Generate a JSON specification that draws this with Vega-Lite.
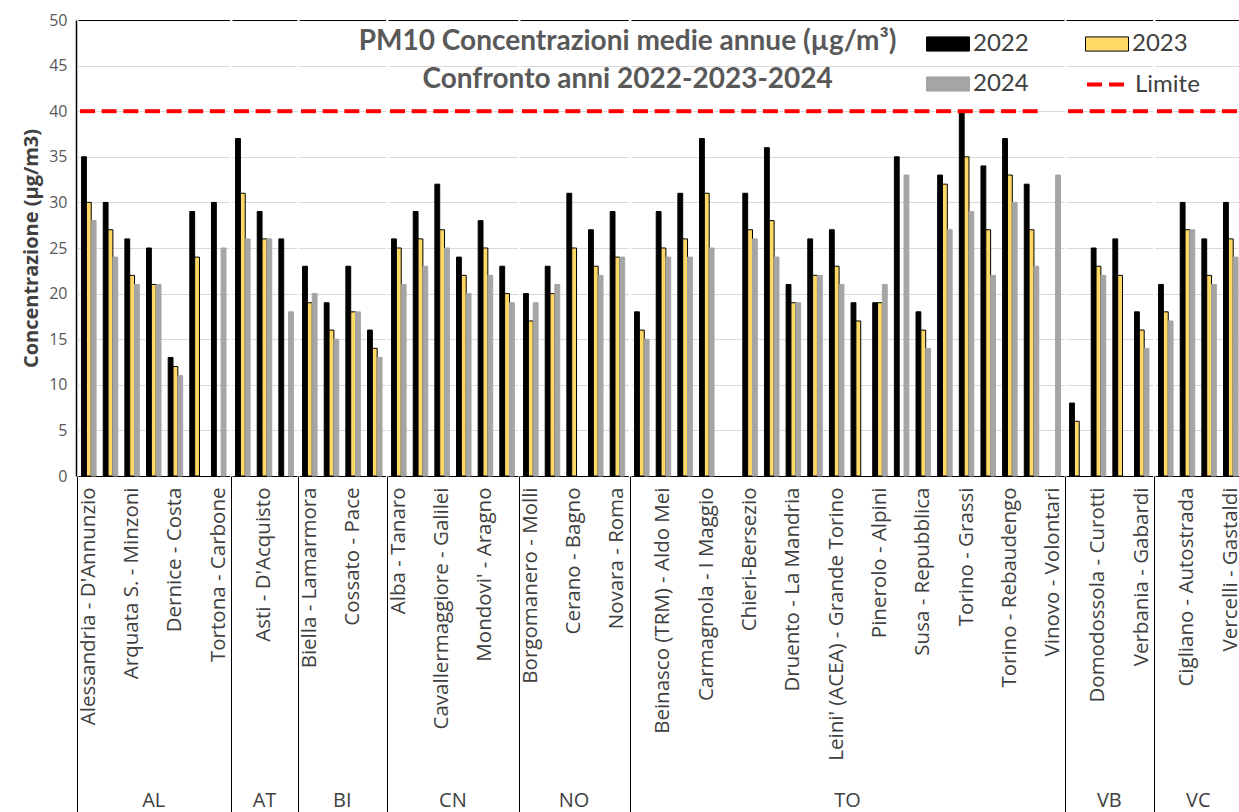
{
  "$schema": "https://vega.github.io/schema/vega-lite/v6.json",
  "padding": {"left": 21, "top": 12, "right": 0, "bottom": 0},
  "background": "white",
  "title": {
    "text": ["PM10 Concentrazioni medie annue (µg/m³)", "Confronto anni 2022-2023-2024"],
    "orient": "top", "anchor": "middle", "frame": "bounds", "offset": -82, "dx": -4,
    "font": "Lato", "fontSize": 28, "fontWeight": "bold", "color": "#595959", "lineHeight": 38
  },
  "data": {"values": [
    {"order": 1, "prov": "AL", "station": "Alessandria - D'Annunzio", "2022": 35, "2023": 30, "2024": 28, "limit": 40},
    {"order": 2, "prov": "AL", "station": "Alessandria - Volta", "2022": 30, "2023": 27, "2024": 24, "limit": 40},
    {"order": 3, "prov": "AL", "station": "Arquata S. - Minzoni", "2022": 26, "2023": 22, "2024": 21, "limit": 40},
    {"order": 4, "prov": "AL", "station": "Casale M. - Castello", "2022": 25, "2023": 21, "2024": 21, "limit": 40},
    {"order": 5, "prov": "AL", "station": "Dernice - Costa", "2022": 13, "2023": 12, "2024": 11, "limit": 40},
    {"order": 6, "prov": "AL", "station": "Novi Ligure - Gobetti", "2022": 29, "2023": 24, "2024": null, "limit": 40},
    {"order": 7, "prov": "AL", "station": "Tortona - Carbone", "2022": 30, "2023": null, "2024": 25, "limit": 40},
    {"order": 8, "prov": "AT", "station": "Asti - Baussano", "2022": 37, "2023": 31, "2024": 26, "limit": 40},
    {"order": 9, "prov": "AT", "station": "Asti - D'Acquisto", "2022": 29, "2023": 26, "2024": 26, "limit": 40},
    {"order": 10, "prov": "AT", "station": "Vinchio - San Michele", "2022": 26, "2023": null, "2024": 18, "limit": 40},
    {"order": 11, "prov": "BI", "station": "Biella - Lamarmora", "2022": 23, "2023": 19, "2024": 20, "limit": 40},
    {"order": 12, "prov": "BI", "station": "Biella - Sturzo", "2022": 19, "2023": 16, "2024": 15, "limit": 40},
    {"order": 13, "prov": "BI", "station": "Cossato - Pace", "2022": 23, "2023": 18, "2024": 18, "limit": 40},
    {"order": 14, "prov": "BI", "station": "Trivero - Ponzone", "2022": 16, "2023": 14, "2024": 13, "limit": 40},
    {"order": 15, "prov": "CN", "station": "Alba - Tanaro", "2022": 26, "2023": 25, "2024": 21, "limit": 40},
    {"order": 16, "prov": "CN", "station": "Bra - Madonna Fiori", "2022": 29, "2023": 26, "2024": 23, "limit": 40},
    {"order": 17, "prov": "CN", "station": "Cavallermaggiore - Galilei", "2022": 32, "2023": 27, "2024": 25, "limit": 40},
    {"order": 18, "prov": "CN", "station": "Cuneo - Alpini", "2022": 24, "2023": 22, "2024": 20, "limit": 40},
    {"order": 19, "prov": "CN", "station": "Mondovi' - Aragno", "2022": 28, "2023": 25, "2024": 22, "limit": 40},
    {"order": 20, "prov": "CN", "station": "Saliceto - Moizo", "2022": 23, "2023": 20, "2024": 19, "limit": 40},
    {"order": 21, "prov": "NO", "station": "Borgomanero - Molli", "2022": 20, "2023": 17, "2024": 19, "limit": 40},
    {"order": 22, "prov": "NO", "station": "Castelletto Ticino - Roma", "2022": 23, "2023": 20, "2024": 21, "limit": 40},
    {"order": 23, "prov": "NO", "station": "Cerano - Bagno", "2022": 31, "2023": 25, "2024": null, "limit": 40},
    {"order": 24, "prov": "NO", "station": "Galliate - Monte Nero", "2022": 27, "2023": 23, "2024": 22, "limit": 40},
    {"order": 25, "prov": "NO", "station": "Novara - Roma", "2022": 29, "2023": 24, "2024": 24, "limit": 40},
    {"order": 26, "prov": "TO", "station": "Baldissero (ACEA) - Parco", "2022": 18, "2023": 16, "2024": 15, "limit": 40},
    {"order": 27, "prov": "TO", "station": "Beinasco (TRM) - Aldo Mei", "2022": 29, "2023": 25, "2024": 24, "limit": 40},
    {"order": 28, "prov": "TO", "station": "Borgaro T. - Caduti", "2022": 31, "2023": 26, "2024": 24, "limit": 40},
    {"order": 29, "prov": "TO", "station": "Carmagnola - I Maggio", "2022": 37, "2023": 31, "2024": 25, "limit": 40},
    {"order": 30, "prov": "TO", "station": "Ceresole Reale - Diga", "2022": null, "2023": null, "2024": null, "limit": 40},
    {"order": 31, "prov": "TO", "station": "Chieri-Bersezio", "2022": 31, "2023": 27, "2024": 26, "limit": 40},
    {"order": 32, "prov": "TO", "station": "Collegno - Francia", "2022": 36, "2023": 28, "2024": 24, "limit": 40},
    {"order": 33, "prov": "TO", "station": "Druento - La Mandria", "2022": 21, "2023": 19, "2024": 19, "limit": 40},
    {"order": 34, "prov": "TO", "station": "Ivrea - Liberazione", "2022": 26, "2023": 22, "2024": 22, "limit": 40},
    {"order": 35, "prov": "TO", "station": "Leini' (ACEA) - Grande Torino", "2022": 27, "2023": 23, "2024": 21, "limit": 40},
    {"order": 36, "prov": "TO", "station": "Orbassano - Gozzano", "2022": 19, "2023": 17, "2024": null, "limit": 40},
    {"order": 37, "prov": "TO", "station": "Pinerolo - Alpini", "2022": 19, "2023": 19, "2024": 21, "limit": 40},
    {"order": 38, "prov": "TO", "station": "Settimo T. - Vivaldi", "2022": 35, "2023": null, "2024": 33, "limit": 40},
    {"order": 39, "prov": "TO", "station": "Susa - Repubblica", "2022": 18, "2023": 16, "2024": 14, "limit": 40},
    {"order": 40, "prov": "TO", "station": "Torino - Consolata", "2022": 33, "2023": 32, "2024": 27, "limit": 40},
    {"order": 41, "prov": "TO", "station": "Torino - Grassi", "2022": 40, "2023": 35, "2024": 29, "limit": 40},
    {"order": 42, "prov": "TO", "station": "Torino - Lingotto", "2022": 34, "2023": 27, "2024": 22, "limit": 40},
    {"order": 43, "prov": "TO", "station": "Torino - Rebaudengo", "2022": 37, "2023": 33, "2024": 30, "limit": 40},
    {"order": 44, "prov": "TO", "station": "Torino - Rubino", "2022": 32, "2023": 27, "2024": 23, "limit": 40},
    {"order": 45, "prov": "TO", "station": "Vinovo - Volontari", "2022": null, "2023": null, "2024": 33, "limit": null},
    {"order": 46, "prov": "VB", "station": "Cossogno - Val Grande", "2022": 8, "2023": 6, "2024": null, "limit": 40},
    {"order": 47, "prov": "VB", "station": "Domodossola - Curotti", "2022": 25, "2023": 23, "2024": 22, "limit": 40},
    {"order": 48, "prov": "VB", "station": "Pieve Vergonte - Industria", "2022": 26, "2023": 22, "2024": null, "limit": 40},
    {"order": 49, "prov": "VB", "station": "Verbania - Gabardi", "2022": 18, "2023": 16, "2024": 14, "limit": 40},
    {"order": 50, "prov": "VC", "station": "Borgosesia - Tonella", "2022": 21, "2023": 18, "2024": 17, "limit": 40},
    {"order": 51, "prov": "VC", "station": "Cigliano - Autostrada", "2022": 30, "2023": 27, "2024": 27, "limit": 40},
    {"order": 52, "prov": "VC", "station": "Vercelli - CONI", "2022": 26, "2023": 22, "2024": 21, "limit": 40},
    {"order": 53, "prov": "VC", "station": "Vercelli - Gastaldi", "2022": 30, "2023": 26, "2024": 24, "limit": 40}
  ]},
  "facet": {
    "column": {
      "field": "prov", "type": "nominal",
      "header": {"title": null, "labelOrient": "bottom", "labelFont": "Open Sans", "labelFontSize": 20, "labelColor": "#404040", "labelPadding": -22}
    }
  },
  "spacing": 0,
  "resolve": {"scale": {"x": "independent"}},
  "spec": {
    "width": {"step": 21.65, "for": "position"},
    "height": 456,
    "layer": [
      {
        "transform": [
          {"fold": ["2022", "2023", "2024"], "as": ["year", "value"]},
          {"filter": "datum.value != null"}
        ],
        "mark": {"type": "bar", "strokeWidth": 1},
        "encoding": {
          "x": {
            "field": "station", "type": "nominal", "sort": {"field": "order"},
            "scale": {"paddingInner": 0.33, "paddingOuter": 0.165},
            "axis": {
              "title": null, "grid": false, "labelAngle": -90,
              "labelFont": "Open Sans", "labelFontSize": 20.5, "labelColor": "#404040",
              "labelLimit": 400, "labelOverlap": false, "labelBound": false,
              "labelExpr": "indexof(['Alessandria - Volta','Casale M. - Castello','Novi Ligure - Gobetti','Asti - Baussano','Vinchio - San Michele','Biella - Sturzo','Trivero - Ponzone','Bra - Madonna Fiori','Cuneo - Alpini','Saliceto - Moizo','Castelletto Ticino - Roma','Galliate - Monte Nero','Baldissero (ACEA) - Parco','Borgaro T. - Caduti','Ceresole Reale - Diga','Collegno - Francia','Ivrea - Liberazione','Orbassano - Gozzano','Settimo T. - Vivaldi','Torino - Consolata','Torino - Lingotto','Torino - Rubino','Cossogno - Val Grande','Pieve Vergonte - Industria','Borgosesia - Tonella','Vercelli - CONI'], datum.value) >= 0 ? '' : datum.value",
              "domainColor": "#000000", "domainWidth": 1,
              "bandPosition": -0.2463,
              "ticks": true, "tickSize": 336, "tickWidth": 1,
              "tickColor": {"condition": {"test": "datum.index === 0", "value": "#000000"}, "value": "transparent"},
              "labelPadding": -325
            }
          },
          "xOffset": {
            "field": "year", "type": "nominal",
            "scale": {"domain": ["2022", "2023", "2024"], "range": [0, 14.5], "paddingInner": 0, "paddingOuter": 0}
          },
          "y": {
            "field": "value", "type": "quantitative",
            "scale": {"domain": [0, 50], "nice": false},
            "axis": {
              "title": "Concentrazione (µg/m3)", "titleFont": "Open Sans", "titleFontWeight": "bold",
              "titleFontSize": 20, "titleColor": "#404040", "titlePadding": 7,
              "labelFont": "Open Sans", "labelFontSize": 16, "labelColor": "#595959", "labelPadding": 9,
              "values": [0, 5, 10, 15, 20, 25, 30, 35, 40, 45, 50],
              "ticks": false, "domainColor": "#000000", "domainWidth": 1.5,
              "gridColor": {"condition": {"test": "datum.value === 50", "value": "#000000"}, "value": "#D9D9D9"},
              "gridWidth": 1
            }
          },
          "fill": {
            "field": "year", "type": "nominal",
            "scale": {"domain": ["2022", "2023", "2024"], "range": ["#000000", "#FFD966", "#A5A5A5"]},
            "legend": {
              "title": null, "orient": "none", "legendX": 848, "legendY": 2,
              "direction": "horizontal", "columns": 2, "columnPadding": 54, "rowPadding": 6,
              "symbolType": "M-1,-0.33H1V0.33H-1Z", "symbolSize": 1849, "symbolStrokeWidth": 1,
              "labelFont": "Lato", "labelFontSize": 24, "labelColor": "#404040", "labelOffset": 3,
              "encode": {"symbols": {"update": {"stroke": {"signal": "datum.label === '2023' ? '#000000' : 'transparent'"}}}}
            }
          },
          "stroke": {
            "field": "year", "type": "nominal",
            "scale": {"domain": ["2022", "2023", "2024"], "range": ["#000000", "#000000", "#A5A5A5"]},
            "legend": null
          }
        }
      },
      {
        "transform": [{"filter": "datum.limit != null"}],
        "mark": {"type": "rule", "color": "#FF0000", "strokeWidth": 4},
        "encoding": {
          "x": {"field": "station", "type": "nominal", "sort": {"field": "order"}, "bandPosition": -0.109},
          "x2": {"field": "station", "bandPosition": 1.109},
          "y": {"field": "limit", "type": "quantitative"},
          "strokeDash": {
            "datum": "Limite", "type": "nominal",
            "scale": {"domain": ["Limite"], "range": [[15, 7]]},
            "legend": {
              "title": null, "orient": "none", "legendX": 1007, "legendY": 41,
              "symbolSize": 1849, "symbolStrokeColor": "#FF0000", "symbolStrokeWidth": 4,
              "labelFont": "Lato", "labelFontSize": 24, "labelColor": "#404040", "labelOffset": 3
            }
          }
        }
      }
    ]
  },
  "config": {"view": {"stroke": null}}
}
